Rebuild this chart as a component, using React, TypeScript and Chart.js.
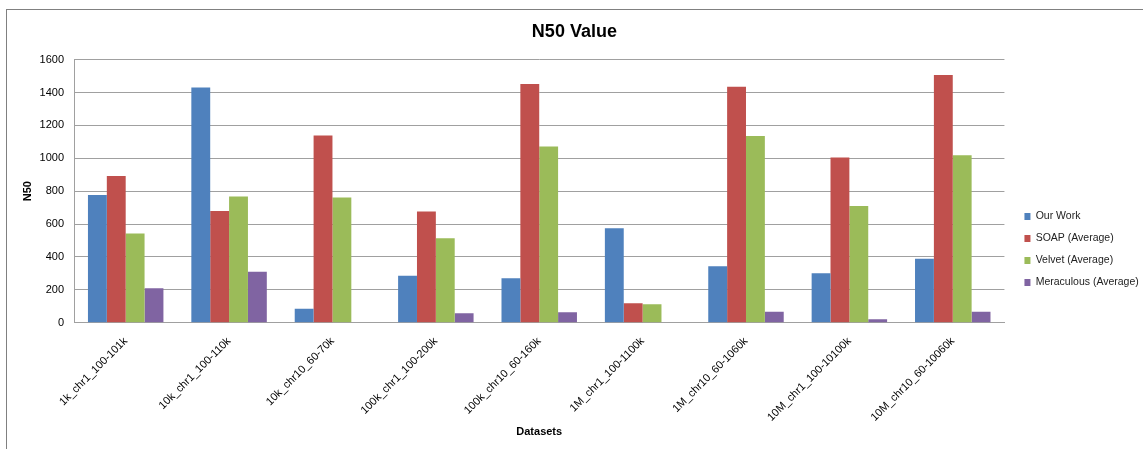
import React, { useEffect, useRef } from "react";
import { Chart, registerables } from "chart.js";

Chart.register(...registerables);

const categories = [
  "1k_chr1_100-101k",
  "10k_chr1_100-110k",
  "10k_chr10_60-70k",
  "100k_chr1_100-200k",
  "100k_chr10_60-160k",
  "1M_chr1_100-1100k",
  "1M_chr10_60-1060k",
  "10M_chr1_100-10100k",
  "10M_chr10_60-10060k",
];

const ourWork = [776, 1431, 85, 286, 270, 574, 343, 300, 389];
const soapAverage = [892, 679, 1139, 677, 1451, 118, 1435, 1005, 1506];
const velvetAverage = [543, 768, 762, 513, 1072, 112, 1135, 709, 1018];
const meraculousAverage = [209, 310, 0, 57, 63, 0, 67, 21, 67];

const seriesNames = ["Our Work", "SOAP (Average)", "Velvet (Average)", "Meraculous (Average)"];
const seriesColors = ["#4F81BD", "#C0504D", "#9BBB59", "#8064A2"];

const FONT = "'Liberation Sans', Arial, sans-serif";

export default function App() {
  const canvasRef = useRef<HTMLCanvasElement | null>(null);

  useEffect(() => {
    if (!canvasRef.current) return;
    const seriesData = [ourWork, soapAverage, velvetAverage, meraculousAverage];
    const chart = new Chart(canvasRef.current, {
      type: "bar",
      data: {
        labels: categories,
        datasets: seriesData.map((d, i) => ({
          label: seriesNames[i],
          data: d,
          backgroundColor: seriesColors[i],
          borderWidth: 0,
          categoryPercentage: 0.73,
          barPercentage: 1.0,
        })),
      },
      options: {
        animation: false,
        responsive: false,
        devicePixelRatio: 1,
        layout: { padding: { top: 10, bottom: 5, left: 0, right: -5.8 } },
        plugins: {
          title: {
            display: true,
            text: "N50 Value",
            color: "#000",
            font: { family: FONT, size: 18, weight: "bold" },
            padding: { top: 11, bottom: 17 },
          },
          legend: {
            display: true,
            position: "right",
            align: "center",
            title: {
              display: true,
              text: " ",
              font: { family: FONT, size: 11 },
              padding: { top: 32, bottom: 0 },
            },
            labels: {
              boxWidth: 6,
              boxHeight: 7,
              padding: 11.5,
              color: "#222",
              font: { family: FONT, size: 10.5 },
            },
          },
          tooltip: { enabled: false },
        },
        scales: {
          x: {
            grid: { display: false },
            border: { display: true, color: "#a0a0a0" },
            ticks: {
              color: "#000",
              font: { family: FONT, size: 11 },
              minRotation: 45,
              maxRotation: 45,
              autoSkip: false,
              padding: 4,
            },
            title: {
              display: true,
              text: "Datasets",
              color: "#000",
              font: { family: FONT, size: 11, weight: "bold" },
              padding: { top: 0, bottom: 5 },
            },
            afterFit: (s: any) => {
              s.height = 121.3;
            },
          },
          y: {
            min: 0,
            max: 1600,
            ticks: {
              stepSize: 200,
              color: "#000",
              font: { family: FONT, size: 11 },
              padding: 10,
              callback: (v: any) => String(v),
            },
            grid: { color: "#a0a0a0", drawTicks: false },
            border: { display: true, color: "#a0a0a0" },
            title: {
              display: true,
              text: "N50",
              color: "#000",
              font: { family: FONT, size: 11, weight: "bold" },
              padding: { top: 21, bottom: 0 },
            },
            afterFit: (s: any) => {
              s.width = 74;
            },
          },
          spacer: {
            type: "linear",
            position: "right",
            display: true,
            grid: { display: false },
            border: { display: false },
            ticks: { display: false },
            afterFit: (s: any) => {
              s.width = 8.5;
            },
          },
        },
      },
    } as any);
    return () => chart.destroy();
  }, []);

  return (
    <div style={{ position: "absolute", left: 0, top: 0, width: 1143, height: 449, background: "#fff" }}>
      <canvas ref={canvasRef} width={1143} height={449} style={{ position: "absolute", left: 0, top: 0 }} />
      <div
        style={{
          position: "absolute",
          left: 6,
          top: 9,
          width: 1137,
          height: 440,
          borderLeft: "1px solid #808080",
          borderTop: "1px solid #808080",
          boxSizing: "border-box",
          pointerEvents: "none",
        }}
      />
    </div>
  );
}
